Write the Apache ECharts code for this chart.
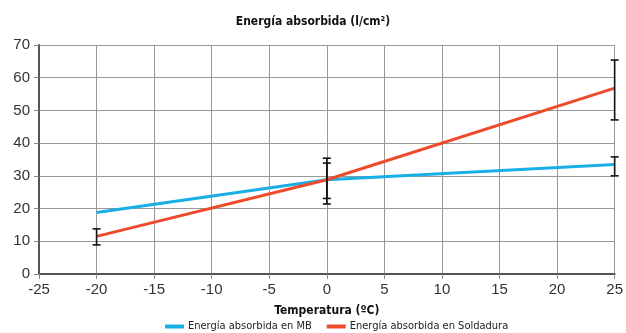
<!DOCTYPE html>
<html><head><meta charset="utf-8">
<script src="https://cdn.jsdelivr.net/npm/echarts@6/dist/echarts.min.js"></script>
<style>html,body{margin:0;padding:0;background:#fff}#c{width:626px;height:333px}</style>
</head><body><div id="c"></div>
<script>
var temps = [-20, 0, 25];
var mbValues = [18.8, 28.8, 33.5];
var soldValues = [11.5, 28.8, 56.8];
var mbErrLow = [null, 23.1, 30.0];
var mbErrHigh = [null, 33.9, 35.8];
var soldErrLow = [8.9, 21.4, 47.1];
var soldErrHigh = [13.8, 35.4, 65.4];
var xTicks = [-25, 25, 5];
var yTicks = [0, 70, 10];
var seriesNames = ['Energía absorbida en MB', 'Energía absorbida en Soldadura'];
var titleText = 'Energía absorbida (l/cm²)';
var xName = 'Temperatura (ºC)';

var narrow = '"Liberation Sans Narrow", "DejaVu Sans Condensed", sans-serif';

function pairs(xs, ys){ return xs.map(function(x,i){return [x, ys[i]];}); }
function errData(lo, hi){
  var out = [];
  temps.forEach(function(x,i){ if(lo[i]!=null) out.push([x, lo[i], hi[i]]); });
  return out;
}
var allErr = errData(mbErrLow, mbErrHigh).concat(errData(soldErrLow, soldErrHigh));

function renderErr(params, api){
  var x = api.value(0), lo = api.value(1), hi = api.value(2);
  var pLo = api.coord([x, lo]), pHi = api.coord([x, hi]);
  var w = 4;
  var st = {stroke:'#111', lineWidth:1.6};
  return {type:'group', children:[
    {type:'line', shape:{x1:pLo[0], y1:pLo[1], x2:pHi[0], y2:pHi[1]}, style:st},
    {type:'line', shape:{x1:pLo[0]-w, y1:pLo[1], x2:pLo[0]+w, y2:pLo[1]}, style:st},
    {type:'line', shape:{x1:pHi[0]-w, y1:pHi[1], x2:pHi[0]+w, y2:pHi[1]}, style:st}
  ]};
}

var chart = echarts.init(document.getElementById('c'));
chart.setOption({
  animation:false,
  title:{text:titleText, left:'center', top:11, textStyle:{fontFamily:narrow, fontSize:12, fontWeight:'bold', color:'#111'}},
  legend:{data:seriesNames, bottom:-4, left:160, itemWidth:19, itemHeight:4, itemGap:15, icon:'rect',
    textStyle:{fontFamily:narrow, fontSize:11, color:'#222', padding:[0,0,0,-1]}},
  grid:{left:39, right:9, top:45, bottom:59, containLabel:false},
  xAxis:{type:'value', min:xTicks[0], max:xTicks[1], interval:xTicks[2],
    name:xName, nameLocation:'middle', nameGap:31,
    nameTextStyle:{fontFamily:narrow, fontSize:12, fontWeight:'bold', color:'#111'},
    axisLine:{onZero:false, lineStyle:{color:'#555', width:2}},
    axisTick:{show:true, length:5, lineStyle:{color:'#888'}},
    axisLabel:{fontFamily:'"Liberation Sans", Arial, sans-serif', fontSize:15, color:'#333', margin:8},
    splitLine:{show:true, lineStyle:{color:'#999', width:1}}},
  yAxis:{type:'value', min:yTicks[0], max:yTicks[1], interval:yTicks[2],
    axisLine:{show:true, onZero:false, lineStyle:{color:'#555', width:2}},
    axisTick:{show:true, length:5, lineStyle:{color:'#888'}},
    axisLabel:{fontFamily:'"Liberation Sans", Arial, sans-serif', fontSize:15, color:'#333', margin:9},
    splitLine:{show:true, lineStyle:{color:'#999', width:1}}},
  series:[
    {name:seriesNames[0], type:'line', data:pairs(temps, mbValues), symbol:'none', color:'#1aaee6', lineStyle:{width:3}, z:2},
    {name:seriesNames[1], type:'line', data:pairs(temps, soldValues), symbol:'none', color:'#ee4a2c', lineStyle:{width:3}, z:3},
    {type:'custom', data:allErr, renderItem:renderErr, z:5, silent:true}
  ]
});
</script></body></html>
